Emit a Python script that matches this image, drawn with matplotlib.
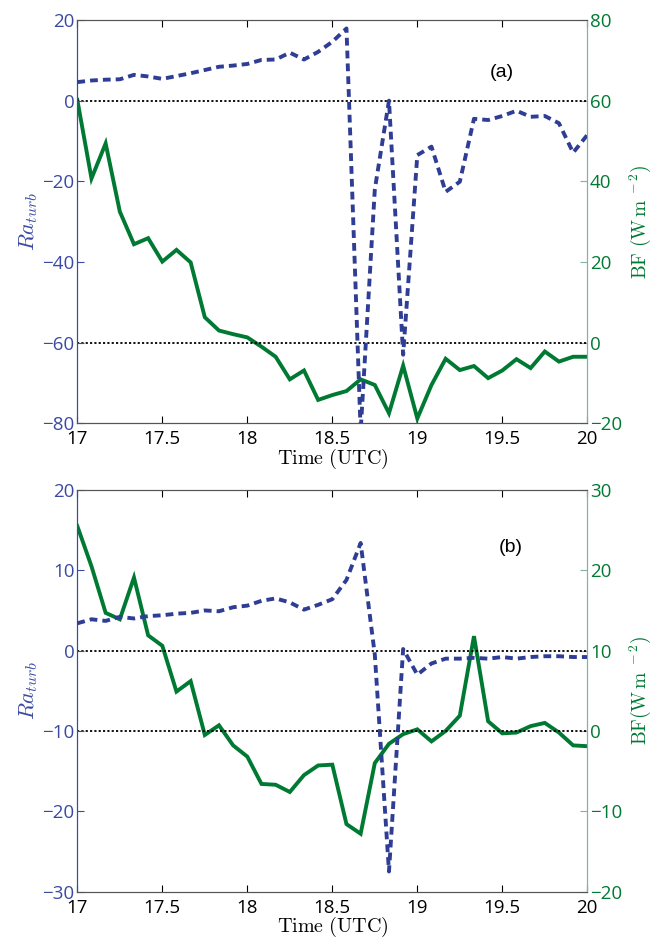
import numpy as np
import matplotlib
matplotlib.use("Agg")
import matplotlib.pyplot as plt

# time axis, 5 minute steps from 17 to 20 UTC
time = np.linspace(17, 20, 37)

# panel (a)
ra_a = [4.6, 5.0, 5.2, 5.3, 6.4, 6.0, 5.4, 6.1, 6.8, 7.6, 8.4, 8.7, 9.1,
        10.1, 10.2, 11.9, 10.2, 12.1, 14.6, 17.9, -82.0, -22.0, 0.0, -63.0,
        -13.5, -11.4, -22.6, -20.1, -4.5, -4.8, -3.8, -2.5, -4.0, -3.8,
        -5.6, -12.9, -8.5]
bf_a = [60.2, 40.7, 49.4, 32.5, 24.4, 25.9, 20.1, 23.0, 19.9, 6.3, 3.0, 2.1,
        1.3, -1.0, -3.5, -9.1, -6.9, -14.2, -13.0, -12.0, -9.1, -10.5, -17.5,
        -5.7, -18.8, -10.5, -4.0, -6.8, -5.8, -8.8, -6.9, -4.1, -6.3, -2.2,
        -4.7, -3.5, -3.5]

# panel (b)
ra_b = [3.4, 3.9, 3.7, 4.2, 4.0, 4.3, 4.4, 4.6, 4.7, 5.0, 4.9, 5.4, 5.6,
        6.2, 6.5, 6.0, 5.1, 5.7, 6.4, 8.8, 13.4, -0.5, -27.5, 0.2, -3.0,
        -1.6, -1.0, -1.0, -0.9, -1.0, -0.8, -1.0, -0.8, -0.7, -0.7, -0.8,
        -0.8]
bf_b = [25.5, 20.5, 14.7, 13.9, 19.1, 11.9, 10.6, 4.9, 6.2, -0.5, 0.7, -1.8,
        -3.2, -6.6, -6.7, -7.6, -5.5, -4.3, -4.2, -11.6, -12.8, -4.0, -1.6,
        -0.4, 0.2, -1.3, 0.0, 1.9, 11.8, 1.2, -0.3, -0.2, 0.6, 1.0, -0.2,
        -1.8, -1.9]

xticks = [17, 17.5, 18, 18.5, 19, 19.5, 20]
xticklabels = ["17", "17.5", "18", "18.5", "19", "19.5", "20"]

BLUE = "#2f3d94"
BLUE_TXT = "#3a4aa2"
GREEN = "#007a33"
GREEN_SPINE = "#7fb59a"
TICKFONT = "Open Sans"


def panel(rect, ra, bf, lylim, lyticks, rylim, ryticks, hlines, tag, tagpos, bflabel):
    ax2 = fig.add_axes(rect)
    ax = ax2.twinx()
    # blue on the left axis, drawn on top of the green series
    ax.yaxis.tick_left()
    ax.yaxis.set_label_position("left")
    ax2.yaxis.tick_right()
    ax2.yaxis.set_label_position("right")

    ax2.plot(time, bf, color=GREEN, lw=2.8, solid_joinstyle="miter")
    for h in hlines:
        ax.axhline(h, color="k", ls=(0, (1.2, 1.2)), lw=1.3, zorder=1)
    ax.plot(time, ra, color=BLUE, lw=2.8, ls=(0, (2.0, 1.3)), zorder=3)

    ax.set_xlim(17, 20)
    ax.set_ylim(*lylim)
    ax.set_yticks(lyticks)
    ax.set_yticklabels([str(v).replace("-", "\u2212") for v in lyticks],
                       color=BLUE_TXT, fontsize=13.5, family=TICKFONT)
    ax2.set_ylim(*rylim)
    ax2.set_yticks(ryticks)
    ax2.set_yticklabels([str(v).replace("-", "\u2212") for v in ryticks],
                        color=GREEN, fontsize=13.5, family=TICKFONT)
    ax2.set_xticks(xticks)
    ax2.set_xticklabels(xticklabels, fontsize=13.5, family=TICKFONT)
    ax2.tick_params(axis="x", direction="in", top=True, length=5, pad=5)
    ax.tick_params(axis="y", direction="in", length=5, color=BLUE_TXT, pad=2)
    ax2.tick_params(axis="y", direction="in", length=5, color=GREEN_SPINE, pad=2)

    for a in (ax, ax2):
        a.spines["left"].set_color(BLUE_TXT)
        a.spines["right"].set_color(GREEN_SPINE)
        a.spines["top"].set_color("#555555")
        a.spines["bottom"].set_color("#555555")

    ax.set_ylabel(r"$Ra_{turb}$", color=BLUE_TXT, fontsize=16,
                  math_fontfamily="cm", labelpad=2)
    ax2.set_ylabel(bflabel, color=GREEN, fontsize=14,
                   math_fontfamily="cm", labelpad=4)
    ax2.set_xlabel(r"$\mathrm{Time\ (UTC)}$", fontsize=14.5,
                   math_fontfamily="cm", labelpad=-1)
    ax.text(tagpos[0], tagpos[1], tag, fontsize=14, family="Liberation Sans",
            ha="center", va="center")
    return ax, ax2


fig = plt.figure(figsize=(6.53, 9.39), dpi=100)

panel([0.1184, 0.5492, 0.781, 0.4295], ra_a, bf_a,
      (-80, 20), [-80, -60, -40, -20, 0, 20],
      (-20, 80), [-20, 0, 20, 40, 60, 80],
      [0, -60], "(a)", (19.5, 7.1), r"$\mathrm{BF\ (W\,m}^{\ -2}\mathrm{)}$")

panel([0.1184, 0.0505, 0.781, 0.4277], ra_b, bf_b,
      (-30, 20), [-30, -20, -10, 0, 10, 20],
      (-20, 30), [-20, -10, 0, 10, 20, 30],
      [0, -10], "(b)", (19.55, 12.8), r"$\mathrm{BF(W\,m}^{\ -2}\mathrm{)}$")

fig.savefig("out.png", dpi=100)
